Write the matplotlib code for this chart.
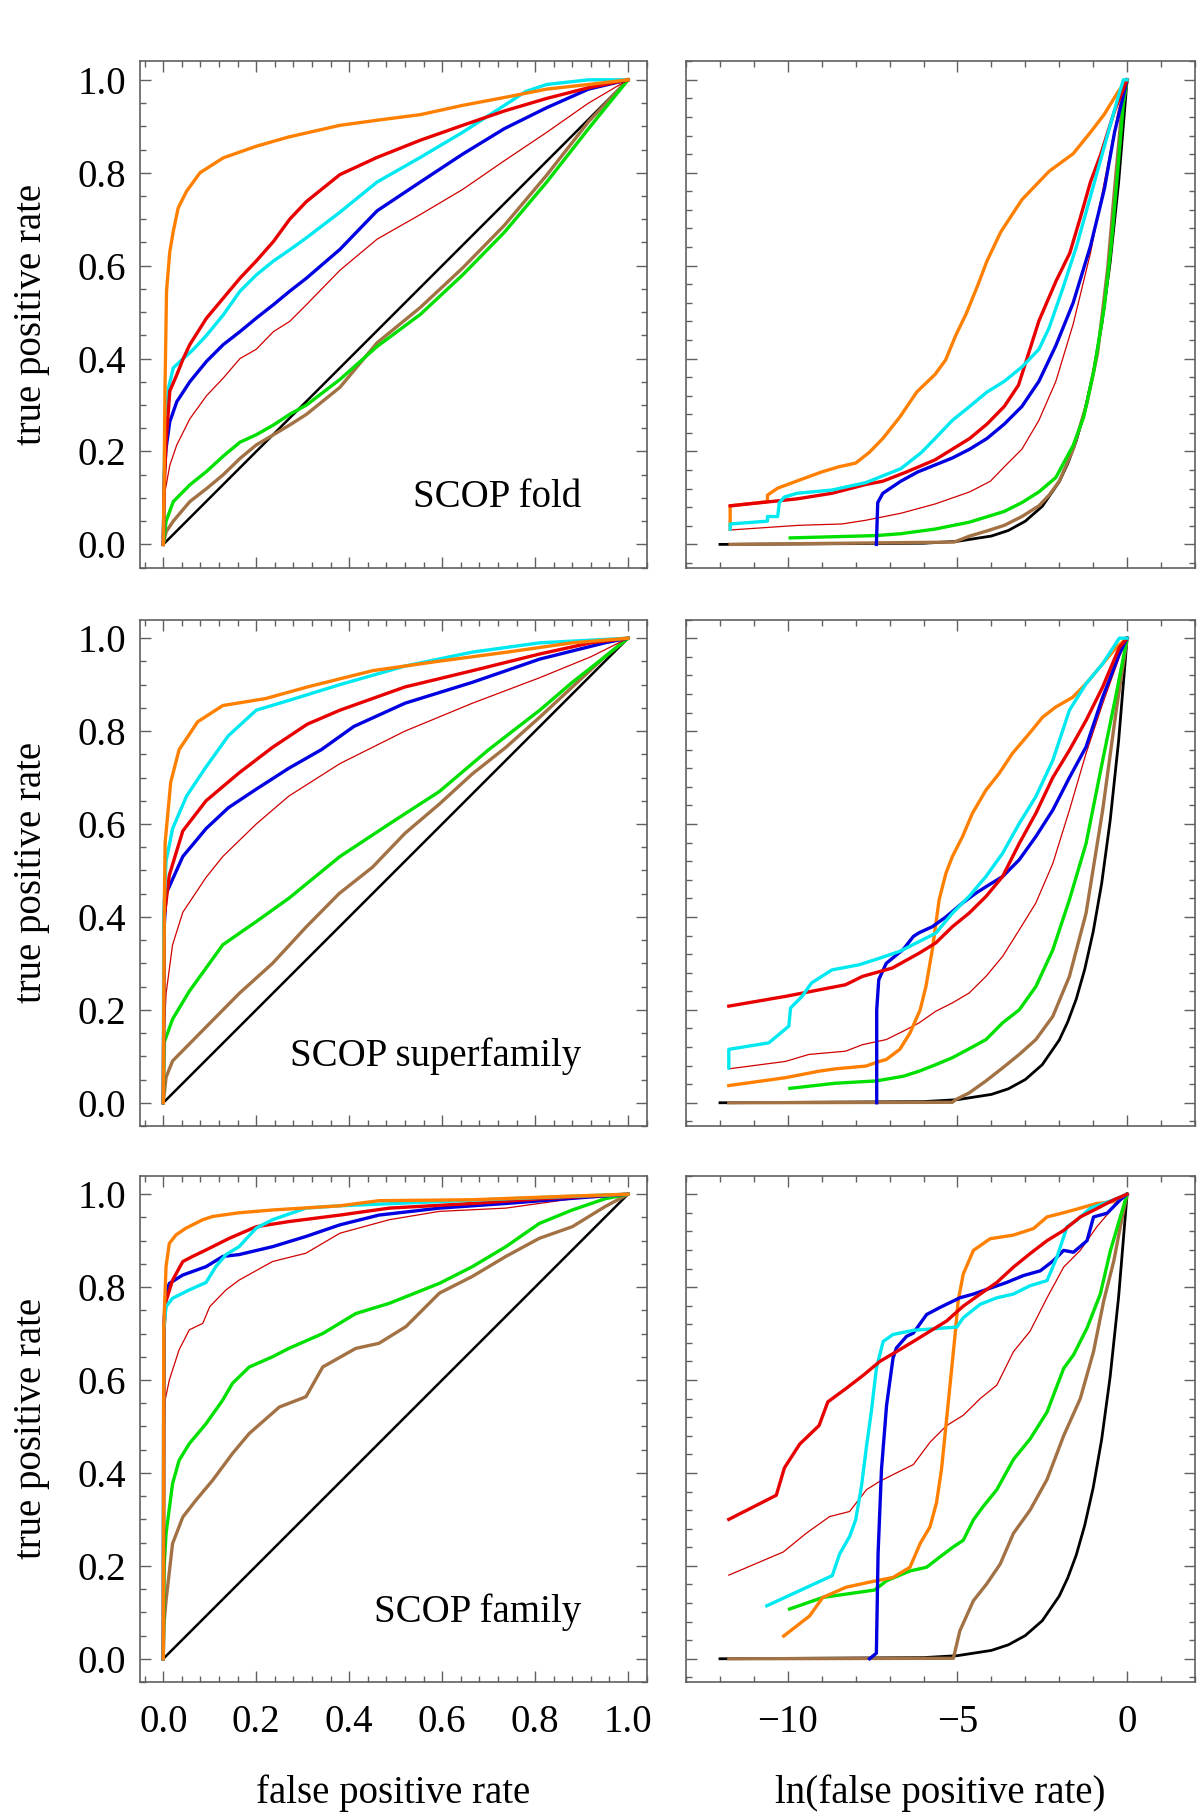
import numpy as np
import matplotlib
matplotlib.use("Agg")
import matplotlib.pyplot as plt
from matplotlib.ticker import MultipleLocator, FormatStrFormatter

plt.rcParams['font.family'] = ['Liberation Serif', 'DejaVu Serif']
plt.rcParams['font.size'] = 28

### ROC curves: (fpr, tpr) for the linear panels,
### (ln fpr, tpr) for the log panels. keys are the line colours.

fold_lin = {
    'brown': ([0, 0.006, 0.0215, 0.057, 0.093, 0.129, 0.165, 0.2, 0.237, 0.272, 0.308, 0.38, 0.46, 0.553, 0.644, 0.734, 0.825, 0.915, 1],
              [0, 0.027, 0.05, 0.092, 0.12, 0.15, 0.185, 0.214, 0.236, 0.257, 0.28, 0.338, 0.434, 0.51, 0.595, 0.687, 0.795, 0.91, 1]),
    'green': ([0, 0.006, 0.0215, 0.057, 0.093, 0.129, 0.165, 0.2, 0.237, 0.272, 0.308, 0.38, 0.46, 0.553, 0.644, 0.734, 0.825, 0.915, 1],
              [0, 0.05, 0.092, 0.128, 0.157, 0.19, 0.22, 0.236, 0.257, 0.28, 0.30, 0.355, 0.426, 0.495, 0.58, 0.672, 0.78, 0.895, 1]),
    'thin': ([0, 0.0036, 0.014, 0.029, 0.057, 0.093, 0.129, 0.165, 0.2, 0.237, 0.272, 0.308, 0.38, 0.46, 0.553, 0.644, 0.734, 0.825, 0.915, 1],
             [0, 0.113, 0.17, 0.214, 0.27, 0.32, 0.358, 0.40, 0.42, 0.458, 0.48, 0.516, 0.59, 0.657, 0.71, 0.764, 0.826, 0.887, 0.95, 1]),
    'blue': ([0, 0.002, 0.006, 0.014, 0.029, 0.057, 0.093, 0.129, 0.165, 0.2, 0.237, 0.272, 0.308, 0.38, 0.46, 0.553, 0.644, 0.734, 0.825, 0.915, 1],
             [0, 0.15, 0.207, 0.264, 0.307, 0.35, 0.394, 0.43, 0.458, 0.487, 0.516, 0.545, 0.573, 0.635, 0.718, 0.78, 0.84, 0.895, 0.94, 0.98, 1]),
    'cyan': ([0, 0.0036, 0.011, 0.0215, 0.043, 0.065, 0.093, 0.129, 0.165, 0.2, 0.237, 0.272, 0.308, 0.38, 0.46, 0.553, 0.644, 0.734, 0.78, 0.825, 0.915, 1],
             [0, 0.257, 0.336, 0.38, 0.40, 0.42, 0.45, 0.494, 0.545, 0.58, 0.61, 0.634, 0.66, 0.715, 0.78, 0.833, 0.887, 0.945, 0.975, 0.99, 1.0, 1]),
    'red': ([0, 0.002, 0.006, 0.014, 0.029, 0.043, 0.057, 0.093, 0.129, 0.165, 0.2, 0.237, 0.272, 0.308, 0.38, 0.46, 0.553, 0.644, 0.734, 0.825, 0.915, 1],
            [0, 0.12, 0.22, 0.33, 0.365, 0.40, 0.43, 0.487, 0.53, 0.573, 0.61, 0.652, 0.70, 0.738, 0.796, 0.833, 0.87, 0.902, 0.933, 0.96, 0.983, 1]),
    'orange': ([0, 0.002, 0.0036, 0.007, 0.014, 0.0215, 0.032, 0.05, 0.079, 0.129, 0.2, 0.27, 0.38, 0.46, 0.553, 0.644, 0.734, 0.825, 0.915, 1],
               [0, 0.15, 0.33, 0.545, 0.63, 0.674, 0.724, 0.76, 0.80, 0.832, 0.857, 0.877, 0.902, 0.913, 0.925, 0.945, 0.962, 0.98, 0.99, 1]),
}

superfam_lin = {
    'brown': ([0, 0.006, 0.02, 0.092, 0.163, 0.235, 0.307, 0.378, 0.45, 0.52, 0.594, 0.665, 0.737, 0.81, 0.88, 0.95, 1],
              [0, 0.055, 0.09, 0.163, 0.235, 0.30, 0.378, 0.45, 0.507, 0.58, 0.643, 0.708, 0.765, 0.83, 0.895, 0.96, 1]),
    'green': ([0, 0.002, 0.02, 0.056, 0.128, 0.2, 0.27, 0.38, 0.486, 0.594, 0.70, 0.81, 0.88, 0.95, 1],
              [0, 0.13, 0.18, 0.24, 0.34, 0.39, 0.44, 0.53, 0.60, 0.67, 0.76, 0.845, 0.905, 0.96, 1]),
    'thin': ([0, 0.002, 0.006, 0.02, 0.042, 0.092, 0.128, 0.2, 0.27, 0.38, 0.52, 0.665, 0.81, 0.92, 1],
             [0, 0.15, 0.235, 0.34, 0.41, 0.485, 0.53, 0.60, 0.66, 0.73, 0.80, 0.86, 0.915, 0.96, 1]),
    'blue': ([0, 0.002, 0.006, 0.042, 0.092, 0.14, 0.2, 0.27, 0.34, 0.41, 0.52, 0.665, 0.81, 0.95, 1],
             [0, 0.38, 0.45, 0.53, 0.59, 0.635, 0.675, 0.72, 0.76, 0.81, 0.86, 0.905, 0.955, 0.99, 1]),
    'red': ([0, 0.002, 0.013, 0.042, 0.092, 0.163, 0.235, 0.31, 0.38, 0.52, 0.665, 0.81, 0.92, 1],
            [0, 0.40, 0.49, 0.585, 0.65, 0.71, 0.765, 0.815, 0.845, 0.895, 0.93, 0.966, 0.99, 1]),
    'cyan': ([0, 0.001, 0.006, 0.02, 0.05, 0.09, 0.14, 0.2, 0.27, 0.38, 0.52, 0.665, 0.81, 1],
             [0, 0.41, 0.52, 0.59, 0.66, 0.72, 0.79, 0.845, 0.866, 0.90, 0.94, 0.97, 0.99, 1]),
    'orange': ([0, 0.002, 0.004, 0.016, 0.034, 0.074, 0.128, 0.22, 0.31, 0.45, 0.59, 0.74, 0.88, 1],
               [0, 0.40, 0.56, 0.69, 0.76, 0.82, 0.855, 0.87, 0.895, 0.93, 0.95, 0.97, 0.99, 1]),
}

family_lin = {
    'brown': ([0, 0.002, 0.006, 0.02, 0.042, 0.07, 0.106, 0.149, 0.185, 0.25, 0.307, 0.343, 0.414, 0.464, 0.522, 0.594, 0.665, 0.737, 0.809, 0.88, 0.95, 1],
              [0, 0.08, 0.126, 0.248, 0.305, 0.341, 0.384, 0.442, 0.485, 0.542, 0.564, 0.628, 0.668, 0.679, 0.715, 0.787, 0.823, 0.866, 0.905, 0.93, 0.973, 1]),
    'green': ([0, 0.002, 0.006, 0.02, 0.034, 0.056, 0.092, 0.128, 0.149, 0.185, 0.235, 0.27, 0.343, 0.414, 0.486, 0.594, 0.665, 0.737, 0.809, 0.88, 0.95, 1],
              [0, 0.2, 0.27, 0.377, 0.427, 0.463, 0.506, 0.557, 0.593, 0.628, 0.65, 0.668, 0.70, 0.743, 0.765, 0.808, 0.844, 0.887, 0.937, 0.966, 0.99, 1]),
    'thin': ([0, 0.001, 0.004, 0.013, 0.034, 0.056, 0.085, 0.1, 0.135, 0.163, 0.235, 0.307, 0.38, 0.486, 0.594, 0.737, 0.88, 1],
             [0, 0.45, 0.557, 0.60, 0.665, 0.708, 0.722, 0.758, 0.794, 0.815, 0.855, 0.873, 0.916, 0.945, 0.963, 0.97, 0.99, 1]),
    'blue': ([0, 0.001, 0.006, 0.013, 0.042, 0.092, 0.128, 0.163, 0.235, 0.307, 0.38, 0.464, 0.594, 0.737, 0.866, 1],
             [0, 0.72, 0.787, 0.808, 0.826, 0.844, 0.866, 0.87, 0.887, 0.909, 0.934, 0.955, 0.97, 0.98, 0.99, 1]),
    'red': ([0, 0.002, 0.006, 0.02, 0.042, 0.063, 0.092, 0.142, 0.2, 0.27, 0.38, 0.486, 0.665, 0.81, 1],
            [0, 0.715, 0.77, 0.815, 0.855, 0.866, 0.88, 0.905, 0.93, 0.941, 0.955, 0.97, 0.98, 0.99, 1]),
    'cyan': ([0, 0.001, 0.006, 0.02, 0.056, 0.092, 0.113, 0.135, 0.163, 0.2, 0.235, 0.307, 0.38, 0.594, 0.737, 1],
             [0, 0.71, 0.758, 0.776, 0.794, 0.81, 0.844, 0.87, 0.887, 0.927, 0.945, 0.97, 0.975, 0.984, 0.99, 1]),
    'orange': ([0, 0.001, 0.006, 0.013, 0.027, 0.049, 0.085, 0.106, 0.163, 0.235, 0.38, 0.464, 0.665, 0.88, 1],
               [0, 0.715, 0.845, 0.894, 0.912, 0.927, 0.945, 0.952, 0.96, 0.966, 0.975, 0.986, 0.988, 0.996, 1]),
}

fold_log = {
    'brown': ([-11.7, -5.1, -4.64, -4.13, -3.62, -3.1, -2.6, -2.3, -2.0, -1.59, -1.18, -0.87, -0.57, -0.37, -0.16, 0],
              [0, 0.005, 0.018, 0.029, 0.041, 0.06, 0.083, 0.106, 0.136, 0.205, 0.305, 0.412, 0.596, 0.765, 0.933, 1]),
    'green': ([-9.93, -7.39, -6.67, -5.66, -4.64, -3.62, -3.1, -2.6, -2.1, -1.59, -1.28, -0.98, -0.67, -0.47, -0.26, -0.11, 0],
              [0.014, 0.019, 0.023, 0.033, 0.048, 0.071, 0.09, 0.113, 0.144, 0.213, 0.274, 0.374, 0.512, 0.642, 0.818, 0.95, 1]),
    'thin': ([-11.7, -9.7, -8.4, -7.7, -6.67, -5.66, -4.64, -4.03, -3.62, -3.1, -2.6, -2.1, -1.59, -1.08, -0.57, -0.26, 0],
             [0.031, 0.041, 0.044, 0.052, 0.067, 0.087, 0.113, 0.136, 0.167, 0.205, 0.267, 0.351, 0.474, 0.627, 0.818, 0.933, 1]),
    'blue': ([-7.39, -7.35, -7.2, -6.67, -6.17, -5.66, -5.15, -4.64, -4.13, -3.62, -3.1, -2.6, -2.1, -1.59, -1.08, -0.67, -0.37, 0],
             [0, 0.09, 0.11, 0.136, 0.156, 0.171, 0.186, 0.205, 0.228, 0.259, 0.297, 0.351, 0.428, 0.52, 0.642, 0.765, 0.887, 1]),
    'orange': ([-11.7, -11.7, -10.6, -10.6, -10.3, -9.6, -9.0, -8.5, -8.0, -7.6, -7.2, -6.7, -6.2, -5.66, -5.35, -5.05, -4.74, -4.4, -4.13, -3.72, -3.1, -2.3, -1.59, -1.08, -0.67, -0.26, 0],
               [0.033, 0.083, 0.092, 0.106, 0.121, 0.14, 0.156, 0.167, 0.175, 0.198, 0.228, 0.274, 0.328, 0.366, 0.397, 0.45, 0.497, 0.558, 0.61, 0.673, 0.742, 0.803, 0.841, 0.887, 0.926, 0.975, 1]),
    'red': ([-11.7, -9.73, -8.7, -7.7, -7.2, -6.5, -5.66, -5.15, -4.64, -4.13, -3.62, -3.2, -2.9, -2.6, -2.1, -1.69, -1.38, -1.08, -0.77, -0.37, 0],
            [0.083, 0.098, 0.11, 0.129, 0.136, 0.156, 0.182, 0.205, 0.228, 0.259, 0.297, 0.343, 0.412, 0.481, 0.566, 0.627, 0.703, 0.78, 0.841, 0.933, 1]),
    'cyan': ([-11.7, -11.7, -10.6, -10.6, -10.3, -10.25, -10.1, -9.73, -8.7, -7.7, -6.67, -6.06, -5.66, -5.15, -4.64, -4.13, -3.62, -3.1, -2.6, -2.3, -1.9, -1.49, -1.08, -0.67, -0.26, -0.11, 0],
             [0.033, 0.044, 0.05, 0.06, 0.06, 0.09, 0.102, 0.11, 0.117, 0.133, 0.163, 0.198, 0.228, 0.267, 0.297, 0.328, 0.351, 0.382, 0.42, 0.466, 0.55, 0.642, 0.749, 0.857, 0.964, 1.0, 1]),
}

superfam_log = {
    'brown': ([-11.74, -5.15, -5.05, -4.66, -4.16, -3.67, -3.18, -2.69, -2.19, -1.7, -1.21, -0.72, -0.32, 0],
              [0, 0.001, 0.007, 0.021, 0.047, 0.075, 0.104, 0.136, 0.186, 0.272, 0.408, 0.63, 0.845, 1]),
    'green': ([-9.94, -8.6, -7.4, -6.6, -6.13, -5.64, -5.15, -4.66, -4.16, -3.67, -3.18, -2.69, -2.19, -1.7, -1.21, -0.72, -0.32, 0],
              [0.031, 0.042, 0.047, 0.057, 0.068, 0.082, 0.097, 0.116, 0.136, 0.172, 0.20, 0.25, 0.329, 0.437, 0.558, 0.737, 0.88, 1]),
    'thin': ([-11.74, -10.07, -9.38, -8.3, -7.8, -7.1, -6.6, -6.13, -5.64, -5.15, -4.66, -4.16, -3.67, -3.18, -2.69, -2.19, -1.7, -1.21, -0.72, -0.23, 0],
             [0.073, 0.089, 0.104, 0.111, 0.125, 0.136, 0.154, 0.172, 0.197, 0.215, 0.236, 0.272, 0.315, 0.372, 0.43, 0.515, 0.63, 0.752, 0.859, 0.959, 1]),
    'orange': ([-11.74, -11.05, -10.07, -9.08, -8.6, -7.7, -7.3, -7.1, -6.7, -6.4, -6.1, -5.93, -5.74, -5.54, -5.34, -5.15, -4.85, -4.56, -4.16, -3.77, -3.38, -2.88, -2.49, -2.1, -1.6, -1.21, -0.72, -0.32, 0],
               [0.037, 0.044, 0.054, 0.068, 0.073, 0.079, 0.089, 0.093, 0.115, 0.15, 0.20, 0.25, 0.33, 0.437, 0.494, 0.53, 0.573, 0.623, 0.673, 0.709, 0.752, 0.795, 0.83, 0.852, 0.873, 0.902, 0.945, 0.98, 1]),
    'blue': ([-7.38, -7.38, -7.32, -7.1, -6.6, -6.3, -6.13, -5.74, -5.34, -4.85, -4.46, -4.16, -3.67, -3.18, -2.69, -2.19, -1.7, -1.21, -0.72, -0.23, 0],
             [0, 0.2, 0.265, 0.30, 0.33, 0.358, 0.366, 0.379, 0.40, 0.43, 0.451, 0.465, 0.487, 0.523, 0.573, 0.63, 0.70, 0.766, 0.873, 0.966, 1]),
    'red': ([-11.74, -10.07, -9.08, -8.3, -7.8, -6.92, -6.13, -5.64, -5.15, -4.66, -4.16, -3.67, -3.18, -2.69, -2.19, -1.7, -1.21, -0.72, -0.23, 0],
            [0.208, 0.229, 0.243, 0.254, 0.272, 0.29, 0.322, 0.344, 0.379, 0.408, 0.444, 0.487, 0.558, 0.623, 0.70, 0.759, 0.823, 0.895, 0.98, 1]),
    'cyan': ([-11.74, -11.74, -10.56, -9.97, -9.92, -9.58, -9.3, -8.7, -7.9, -7.3, -6.7, -6.13, -5.64, -5.15, -4.66, -4.16, -3.67, -3.18, -2.69, -2.19, -1.7, -1.21, -0.72, -0.23, 0],
             [0.075, 0.115, 0.129, 0.165, 0.204, 0.229, 0.258, 0.286, 0.297, 0.311, 0.326, 0.347, 0.365, 0.408, 0.444, 0.487, 0.537, 0.601, 0.659, 0.737, 0.845, 0.902, 0.945, 1.0, 1]),
}

family_log = {
    'brown': ([-11.74, -5.12, -4.93, -4.53, -4.14, -3.74, -3.35, -2.86, -2.36, -1.87, -1.38, -0.99, -0.69, -0.39, -0.2, 0],
              [0, 0.001, 0.06, 0.125, 0.161, 0.204, 0.27, 0.32, 0.386, 0.48, 0.56, 0.661, 0.77, 0.857, 0.93, 1]),
    'green': ([-9.95, -8.97, -7.44, -7.09, -6.4, -5.91, -5.52, -5.12, -4.83, -4.53, -4.24, -3.84, -3.35, -2.86, -2.36, -1.87, -1.58, -1.18, -0.79, -0.49, -0.2, 0],
              [0.107, 0.132, 0.148, 0.168, 0.189, 0.197, 0.219, 0.241, 0.255, 0.299, 0.328, 0.364, 0.429, 0.473, 0.531, 0.625, 0.654, 0.712, 0.785, 0.879, 0.951, 1]),
    'thin': ([-11.74, -10.13, -9.46, -8.77, -8.18, -7.68, -7.29, -6.8, -6.3, -5.81, -5.32, -4.83, -4.33, -3.84, -3.35, -2.86, -2.36, -1.87, -1.38, -0.89, -0.39, 0],
             [0.18, 0.23, 0.27, 0.306, 0.317, 0.364, 0.382, 0.40, 0.418, 0.466, 0.502, 0.524, 0.56, 0.589, 0.661, 0.705, 0.777, 0.843, 0.879, 0.93, 0.973, 1]),
    'orange': ([-10.12, -9.36, -8.97, -8.28, -7.59, -6.9, -6.4, -6.1, -5.81, -5.62, -5.47, -5.32, -5.17, -5.07, -4.98, -4.83, -4.53, -4.04, -3.35, -2.76, -2.36, -1.77, -0.89, -0.39, 0],
               [0.049, 0.092, 0.132, 0.154, 0.165, 0.175, 0.197, 0.248, 0.284, 0.335, 0.408, 0.516, 0.625, 0.698, 0.77, 0.828, 0.879, 0.904, 0.912, 0.926, 0.951, 0.962, 0.98, 0.984, 1]),
    'blue': ([-7.59, -7.39, -7.34, -7.24, -7.09, -6.9, -6.8, -6.5, -6.3, -5.91, -5.52, -4.93, -4.53, -4.14, -3.55, -3.05, -2.56, -2.17, -1.87, -1.58, -1.18, -0.99, -0.59, -0.2, 0],
             [0, 0.012, 0.226, 0.407, 0.545, 0.647, 0.669, 0.694, 0.701, 0.741, 0.756, 0.777, 0.785, 0.795, 0.81, 0.825, 0.835, 0.857, 0.879, 0.875, 0.90, 0.951, 0.959, 0.988, 1]),
    'cyan': ([-10.62, -8.69, -8.47, -8.18, -8.0, -7.83, -7.68, -7.54, -7.39, -7.19, -6.9, -6.3, -5.02, -4.83, -4.33, -3.84, -3.35, -2.86, -2.36, -2.07, -1.77, -1.48, -1.08, -0.39, 0],
             [0.114, 0.179, 0.226, 0.263, 0.299, 0.371, 0.458, 0.531, 0.625, 0.683, 0.698, 0.707, 0.714, 0.734, 0.763, 0.777, 0.785, 0.803, 0.814, 0.864, 0.93, 0.944, 0.97, 0.988, 1]),
    'red': ([-11.74, -10.34, -10.1, -9.65, -9.08, -8.82, -8.28, -7.78, -7.29, -6.8, -6.3, -5.81, -5.32, -4.83, -4.33, -3.84, -3.35, -2.86, -2.36, -1.87, -1.38, -0.89, -0.39, 0],
            [0.30, 0.352, 0.411, 0.462, 0.502, 0.553, 0.582, 0.61, 0.64, 0.661, 0.683, 0.705, 0.727, 0.759, 0.785, 0.81, 0.843, 0.872, 0.90, 0.922, 0.951, 0.969, 0.988, 1]),
}

# random-guess reference (black)
diag_fpr = [0, 1]
diag_tpr = [0, 1]
ref_lnfpr = [-12, -6, -5, -4, -3.5, -3, -2.5, -2, -1.75, -1.5, -1.25, -1, -0.75, -0.5, -0.25, 0]
ref_tpr = [0, 0.0025, 0.0067, 0.018, 0.030, 0.050, 0.082, 0.135, 0.174, 0.223, 0.287, 0.368, 0.472, 0.607, 0.779, 1.0]

labels = ['SCOP fold', 'SCOP superfamily', 'SCOP family']

colors = {'orange': '#FF8000', 'red': '#E80000', 'cyan': '#00E8F0', 'blue': '#0000E0',
          'thin': '#D00000', 'green': '#00E000', 'brown': '#A27245'}
widths = {'thin': 0.9}

FRAME = '#606060'


def style_axes(ax, xmajor, xminor, ymajor, yminor):
    ax.xaxis.set_major_locator(MultipleLocator(xmajor))
    ax.xaxis.set_minor_locator(MultipleLocator(xminor))
    ax.yaxis.set_major_locator(MultipleLocator(ymajor))
    ax.yaxis.set_minor_locator(MultipleLocator(yminor))
    ax.tick_params(which='both', direction='in', top=True, right=True, color=FRAME, width=1.0)
    ax.tick_params(which='major', length=8)
    ax.tick_params(which='minor', length=4.5)
    ax.tick_params(axis='y', pad=10)
    ax.tick_params(axis='x', pad=16)
    for s in ax.spines.values():
        s.set_color(FRAME)
        s.set_linewidth(1.2)


fig = plt.figure(figsize=(12, 18.17), dpi=100)

bottoms = [0.6876, 0.3803, 0.0743]
h = 0.2787
lins = [fold_lin, superfam_lin, family_lin]
logs = [fold_log, superfam_log, family_log]

for i in range(3):
    axl = fig.add_axes([0.1167, bottoms[i], 0.4222, h])
    axr = fig.add_axes([0.5717, bottoms[i], 0.4241, h])

    axl.plot(diag_fpr, diag_tpr, color='black', lw=1.8)
    for k, (x, y) in lins[i].items():
        axl.plot(x, y, color=colors[k], lw=widths.get(k, 2.4), solid_joinstyle='round')
    axl.set_xlim(-0.05, 1.04)
    axl.set_ylim(-0.05, 1.04)
    style_axes(axl, 0.2, 0.04, 0.2, 0.05)
    axl.yaxis.set_major_formatter(FormatStrFormatter('%.1f'))
    axl.xaxis.set_major_formatter(FormatStrFormatter('%.1f'))
    axl.set_ylabel('true positive rate', labelpad=20)
    axl.text(0.90, 0.10, labels[i], ha='right', va='center')

    axr.plot(ref_lnfpr, ref_tpr, color='black', lw=2.0)
    for k, (x, y) in logs[i].items():
        axr.plot(x, y, color=colors[k], lw=widths.get(k, 2.4), solid_joinstyle='round')
    axr.set_xlim(-13, 2)
    axr.set_ylim(-0.05, 1.04)
    style_axes(axr, 5, 1, 0.2, 0.04)
    axr.tick_params(labelleft=False)

    if i < 2:
        axl.tick_params(labelbottom=False)
        axr.tick_params(labelbottom=False)
    else:
        axl.set_xlabel('false positive rate', labelpad=24)
        axr.set_xlabel('ln(false positive rate)', labelpad=24)

fig.savefig('out.png', dpi=100)
